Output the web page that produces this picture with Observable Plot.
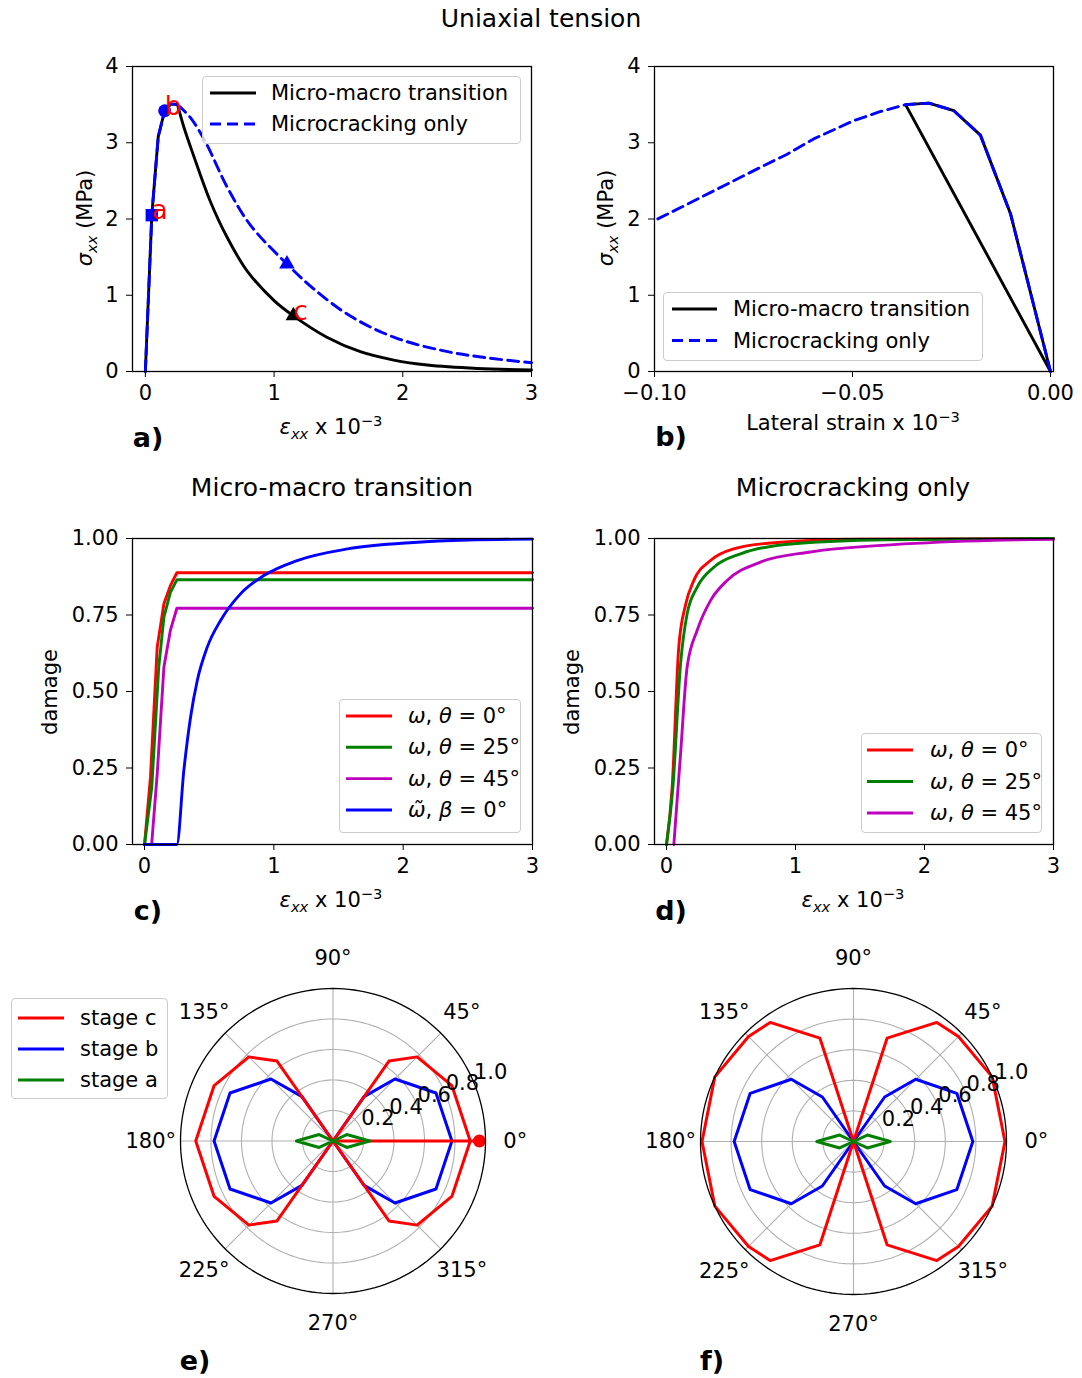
<!DOCTYPE html>
<html><head><meta charset="utf-8">
<script src="https://cdn.jsdelivr.net/npm/d3@7"></script>
<script src="https://cdn.jsdelivr.net/npm/@observablehq/plot@0.6"></script>
<style>
body{margin:0;background:#fff;font-family:"DejaVu Sans",sans-serif;}
#page{position:relative;width:1082px;height:1378px;overflow:hidden;background:#fff;}
.txt{position:absolute;white-space:nowrap;color:#000;line-height:1;font-family:"DejaVu Sans",sans-serif;}
.legend{position:absolute;background:rgba(255,255,255,0.8);border:1.3px solid #cccccc;border-radius:4px;box-sizing:border-box;}
sub,sup{font-size:70%;line-height:0;}
</style></head><body><div id="page"></div>
<script>
// ---------- DATA ----------
// Panel a: stress-strain (eps_xx x 1e-3, sigma_xx MPa)
const aRiseX  = [0, 0.05, 0.1, 0.15, 0.2, 0.25];
const aRiseY  = [0, 2.05, 3.08, 3.42, 3.51, 3.50];
const aMacroX = [0.3, 0.375, 0.5, 0.635, 0.79, 1.0, 1.15, 1.41, 1.67, 1.93, 2.19, 2.58, 3.0];
const aMacroY = [3.2, 2.83, 2.25, 1.76, 1.32, 0.93, 0.73, 0.45, 0.26, 0.15, 0.085, 0.04, 0.02];
const aMicroX = [0.35, 0.47, 0.635, 0.816, 1.1, 1.31, 1.59, 1.93, 2.32, 2.65, 3.0];
const aMicroY = [3.33, 3.0, 2.42, 1.92, 1.41, 1.08, 0.73, 0.45, 0.27, 0.18, 0.115];
const aMarkX = [0.05, 0.15, 1.15, 1.1];
const aMarkY = [2.05, 3.42, 0.73, 1.41];
const aMarkLabel = ["a", "b", "c", ""];

// Panel b: lateral strain vs stress
const bMicroX = [0, -0.0101, -0.0177, -0.0244, -0.0307, -0.0366, -0.0429, -0.0497, -0.0598, -0.0665, -0.0724, -0.085, -0.0934, -0.1];
const bMicroY = [0, 2.07, 3.10, 3.42, 3.52, 3.50, 3.41, 3.29, 3.05, 2.85, 2.70, 2.37, 2.15, 1.98];
const bMacroX = [0, -0.0101, -0.0177, -0.0244, -0.0307, -0.0366, 0];
const bMacroY = [0, 2.07, 3.10, 3.42, 3.52, 3.50, 0];

// Panel c: damage, micro-macro transition
const c0X  = [0, 0.046, 0.098, 0.15, 0.2, 0.25, 3];
const c0Y  = [0, 0.22, 0.645, 0.787, 0.846, 0.888, 0.888];
const c25X = [0, 0.056, 0.11, 0.15, 0.2, 0.25, 3];
const c25Y = [0, 0.187, 0.58, 0.743, 0.824, 0.865, 0.865];
const c45X = [0, 0.055, 0.098, 0.15, 0.2, 0.25, 3];
const c45Y = [0, 0, 0.23, 0.58, 0.70, 0.772, 0.772];
const cMacX = [0, 0.25, 0.304, 0.356, 0.408, 0.485, 0.588, 0.742, 0.923, 1.18, 1.57, 2.08, 2.5, 3];
const cMacY = [0, 0, 0.242, 0.416, 0.536, 0.645, 0.732, 0.819, 0.879, 0.928, 0.966, 0.987, 0.995, 0.998];

// Panel d: damage, microcracking only
const d0X  = [0, 0.044, 0.095, 0.147, 0.212, 0.341, 0.52, 0.858, 1.5, 3];
const d0Y  = [0, 0.187, 0.645, 0.782, 0.863, 0.928, 0.966, 0.987, 0.998, 1.0];
const d25X = [0, 0.05, 0.109, 0.16, 0.238, 0.367, 0.574, 0.987, 1.7, 3];
const d25Y = [0, 0.19, 0.59, 0.754, 0.841, 0.906, 0.95, 0.983, 0.996, 1.0];
const d45X = [0.057, 0.109, 0.16, 0.238, 0.341, 0.47, 0.729, 1.116, 1.76, 2.54, 3];
const d45Y = [0, 0.296, 0.58, 0.70, 0.797, 0.863, 0.923, 0.956, 0.98, 0.994, 0.997];

// Panels e, f: polar damage distributions (theta in degrees, first quadrant; mirrored)
const polarTheta = [0, 25, 45, 55, 72, 90];
const eStageC = [0.90, 0.86, 0.78, 0.64, 0, 0];
const eStageB = [0.78, 0.745, 0.575, 0.355, 0, 0];
const eStageA = [0.24, 0.10, 0, 0, 0, 0];
const eMacro  = 0.96;
const fStageC = [0.99, 1.0, 0.97, 0.95, 0.71, 0];
const fStageB = [0.78, 0.745, 0.575, 0.355, 0, 0];
const fStageA = [0.24, 0.10, 0, 0, 0, 0];
const ringR = [0.2, 0.4, 0.6, 0.8, 1.0];
const spokeAngles = [0, 45, 90, 135, 180, 225, 270, 315];

// ---------- HELPERS ----------
const page = document.getElementById("page");
const RED = "#ff0000", BLUE = "#0000ff", GREEN = "#008000", MAG = "#bf00bf";
const FONT = "DejaVu Sans";
const LW = 2.9;
const pts = (xs, ys) => xs.map((x, i) => ({x, y: ys[i]}));
function place(svg, left, top) {
  svg.style.position = "absolute";
  svg.style.left = left + "px";
  svg.style.top = top + "px";
  page.appendChild(svg);
}
function label(html, cx, cy, size, opts = {}) {
  const d = document.createElement("div");
  d.className = "txt";
  d.innerHTML = html;
  d.style.fontSize = size + "px";
  d.style.left = cx + "px";
  d.style.top = cy + "px";
  d.style.transform = "translate(-50%,-50%)" + (opts.rotate ? ` rotate(${opts.rotate}deg)` : "");
  if (opts.bold) d.style.fontWeight = "bold";
  page.appendChild(d);
}
function legend(box, entries, lx1, lx2, tx, fs) {
  const d = document.createElement("div");
  d.className = "legend";
  d.style.left = box[0] + "px"; d.style.top = box[1] + "px";
  d.style.width = (box[2] - box[0]) + "px"; d.style.height = (box[3] - box[1]) + "px";
  page.appendChild(d);
  const NS = "http://www.w3.org/2000/svg";
  const s = document.createElementNS(NS, "svg");
  s.setAttribute("width", box[2] - box[0]); s.setAttribute("height", box[3] - box[1]);
  s.style.position = "absolute"; s.style.left = "-1px"; s.style.top = "-1px"; s.style.overflow = "visible";
  d.appendChild(s);
  for (const e of entries) {
    const l = document.createElementNS(NS, "line");
    l.setAttribute("x1", lx1 - box[0]); l.setAttribute("x2", lx2 - box[0]);
    l.setAttribute("y1", e.y - box[1]); l.setAttribute("y2", e.y - box[1]);
    l.setAttribute("stroke", e.color); l.setAttribute("stroke-width", e.w || LW);
    if (e.dash) l.setAttribute("stroke-dasharray", e.dash);
    s.appendChild(l);
    const t = document.createElement("div");
    t.className = "txt"; t.innerHTML = e.html; t.style.fontSize = fs + "px";
    t.style.left = (tx - box[0] - 1) + "px"; t.style.top = (e.y - box[1] - 1) + "px";
    t.style.transform = "translateY(-50%)";
    d.appendChild(t);
  }
}
const baseStyle = {fontFamily: FONT, fontSize: "21px", color: "black", background: "transparent", overflow: "visible"};
const xAx = {tickSize: 6, tickPadding: 8, label: null};
const yAx = {tickSize: 6, tickPadding: 8, label: null};

// ---------- PANEL a ----------
const peakX = aRiseX[aRiseX.length - 1], peakY = aRiseY[aRiseY.length - 1];
place(Plot.plot({
  width: 510, height: 400, marginLeft: 92, marginRight: 19, marginTop: 16, marginBottom: 79,
  style: baseStyle,
  x: {...xAx, domain: [-0.1, 3], ticks: [0, 1, 2, 3], tickFormat: d3.format("d")},
  y: {...yAx, domain: [0, 4], ticks: [0, 1, 2, 3, 4], tickFormat: d3.format("d")},
  marks: [
    Plot.line(pts(aRiseX, aRiseY), {x: "x", y: "y", stroke: "black", strokeWidth: LW}),
    Plot.line(pts([peakX].concat(aMacroX), [peakY].concat(aMacroY)), {x: "x", y: "y", stroke: "black", strokeWidth: LW, curve: "catmull-rom"}),
    Plot.line(pts(aRiseX, aRiseY), {x: "x", y: "y", stroke: BLUE, strokeWidth: LW, strokeDasharray: "11,6"}),
    Plot.line(pts([peakX].concat(aMicroX), [peakY].concat(aMicroY)), {x: "x", y: "y", stroke: BLUE, strokeWidth: LW, strokeDasharray: "11,6", curve: "catmull-rom"}),
    Plot.dot(pts([aMarkX[0]], [aMarkY[0]]), {x: "x", y: "y", symbol: "square", r: 7, fill: BLUE, stroke: "none"}),
    Plot.dot(pts([aMarkX[1]], [aMarkY[1]]), {x: "x", y: "y", symbol: "circle", r: 6.5, fill: BLUE, stroke: "none"}),
    Plot.dot(pts([aMarkX[2]], [aMarkY[2]]), {x: "x", y: "y", symbol: "triangle", r: 5.8, fill: "black", stroke: "none"}),
    Plot.dot(pts([aMarkX[3]], [aMarkY[3]]), {x: "x", y: "y", symbol: "triangle", r: 5.8, fill: BLUE, stroke: "none"}),
    Plot.text(aMarkX.map((x, i) => ({x, y: aMarkY[i], t: aMarkLabel[i]})), {x: "x", y: "y", text: "t", fill: RED, fontSize: 26, textAnchor: "start", lineAnchor: "bottom", dy: 4}),
    Plot.frame({stroke: "black", strokeWidth: 1.3})
  ]
}), 40, 50);

// ---------- PANEL b ----------
place(Plot.plot({
  width: 510, height: 400, marginLeft: 94, marginRight: 17, marginTop: 16, marginBottom: 79,
  style: baseStyle,
  x: {...xAx, domain: [-0.1, 0.00076], ticks: [-0.1, -0.05, 0], tickFormat: d3.format(".2f")},
  y: {...yAx, domain: [0, 4], ticks: [0, 1, 2, 3, 4], tickFormat: d3.format("d")},
  marks: [
    Plot.line(pts(bMacroX, bMacroY), {x: "x", y: "y", stroke: "black", strokeWidth: LW}),
    Plot.line(pts(bMicroX, bMicroY), {x: "x", y: "y", stroke: BLUE, strokeWidth: LW, strokeDasharray: "11,6"}),
    Plot.frame({stroke: "black", strokeWidth: 1.3})
  ]
}), 560, 50);

// ---------- PANEL c ----------
place(Plot.plot({
  width: 510, height: 400, marginLeft: 92, marginRight: 18, marginTop: 18, marginBottom: 76,
  style: baseStyle,
  x: {...xAx, domain: [-0.093, 3], ticks: [0, 1, 2, 3], tickFormat: d3.format("d")},
  y: {...yAx, domain: [0, 1], ticks: [0, 0.25, 0.5, 0.75, 1], tickFormat: d3.format(".2f")},
  marks: [
    Plot.line(pts(c0X, c0Y), {x: "x", y: "y", stroke: RED, strokeWidth: LW}),
    Plot.line(pts(c25X, c25Y), {x: "x", y: "y", stroke: GREEN, strokeWidth: LW}),
    Plot.line(pts(c45X, c45Y), {x: "x", y: "y", stroke: MAG, strokeWidth: LW}),
    Plot.line(pts(cMacX, cMacY), {x: "x", y: "y", stroke: BLUE, strokeWidth: LW, curve: "monotone-x"}),
    Plot.frame({stroke: "black", strokeWidth: 1.3})
  ]
}), 40, 520);

// ---------- PANEL d ----------
place(Plot.plot({
  width: 510, height: 400, marginLeft: 94, marginRight: 17, marginTop: 18, marginBottom: 76,
  style: baseStyle,
  x: {...xAx, domain: [-0.093, 3], ticks: [0, 1, 2, 3], tickFormat: d3.format("d")},
  y: {...yAx, domain: [0, 1], ticks: [0, 0.25, 0.5, 0.75, 1], tickFormat: d3.format(".2f")},
  marks: [
    Plot.line(pts(d0X, d0Y), {x: "x", y: "y", stroke: RED, strokeWidth: LW, curve: "monotone-x"}),
    Plot.line(pts(d25X, d25Y), {x: "x", y: "y", stroke: GREEN, strokeWidth: LW, curve: "monotone-x"}),
    Plot.line(pts(d45X, d45Y), {x: "x", y: "y", stroke: MAG, strokeWidth: LW, curve: "monotone-x"}),
    Plot.frame({stroke: "black", strokeWidth: 1.3})
  ]
}), 560, 520);

// ---------- POLAR PANELS ----------
const rad = a => a * Math.PI / 180;
function mirror(rs) {
  const seq = [];
  polarTheta.forEach((t, i) => seq.push([t, rs[i]]));
  for (let i = polarTheta.length - 2; i >= 0; i--) seq.push([180 - polarTheta[i], rs[i]]);
  for (let i = 1; i < polarTheta.length; i++) seq.push([180 + polarTheta[i], rs[i]]);
  for (let i = polarTheta.length - 2; i >= 0; i--) seq.push([360 - polarTheta[i], rs[i]]);
  return seq.map(([a, r]) => ({x: r * Math.cos(rad(a)), y: r * Math.sin(rad(a))}));
}
const circAngles = d3.range(0, 361, 2);
const ringPts = ringR.flatMap(r => circAngles.map(a => ({ring: r, x: r * Math.cos(rad(a)), y: r * Math.sin(rad(a))})));
const spokes = spokeAngles.map(a => ({x2: Math.cos(rad(a)), y2: Math.sin(rad(a)), lab: a + "°",
  lx: 1.195 * Math.cos(rad(a)), ly: 1.195 * Math.sin(rad(a))}));
const rLabels = ringR.map(r => ({x: r * Math.cos(rad(22.5)), y: r * Math.sin(rad(22.5)), t: r.toFixed(1)}));

function polar(stageC, stageB, stageA, macro, size) {
  const m = [
    Plot.line(ringPts.filter(d => d.ring < 1), {x: "x", y: "y", z: "ring", stroke: "#b0b0b0", strokeWidth: 1.1}),
    Plot.link(spokes, {x1: 0, y1: 0, x2: "x2", y2: "y2", stroke: "#b0b0b0", strokeWidth: 1.1}),
    Plot.line(mirror(stageB), {x: "x", y: "y", stroke: BLUE, strokeWidth: 3}),
    Plot.line(mirror(stageC), {x: "x", y: "y", stroke: RED, strokeWidth: 3}),
  ];
  if (macro != null) {
    m.push(Plot.line(pts([0, macro], [0, 0]), {x: "x", y: "y", stroke: RED, strokeWidth: 3}));
    m.push(Plot.dot(pts([macro], [0]), {x: "x", y: "y", r: 6.5, fill: RED, stroke: "none"}));
  }
  m.push(Plot.line(mirror(stageA), {x: "x", y: "y", stroke: GREEN, strokeWidth: 3}));
  m.push(Plot.line(ringPts.filter(d => d.ring === 1), {x: "x", y: "y", stroke: "black", strokeWidth: 1.3}));
  m.push(Plot.text(spokes, {x: "lx", y: "ly", text: "lab", fill: "black", fontSize: 21}));
  m.push(Plot.text(rLabels, {x: "x", y: "y", text: "t", fill: "black", fontSize: 21, textAnchor: "start", lineAnchor: "bottom", dy: -4}));
  return Plot.plot({
    width: 440, height: 410, marginLeft: 80, marginTop: 48, marginRight: 440 - 80 - size, marginBottom: 410 - 48 - size,
    style: baseStyle,
    x: {domain: [-1, 1], axis: null}, y: {domain: [-1, 1], axis: null},
    marks: m
  });
}
place(polar(eStageC, eStageB, eStageA, eMacro, 305), 100, 940);
place(polar(fStageC, fStageB, fStageA, null, 306), 620, 940);

// ---------- TEXT ----------
label("Uniaxial tension", 541, 18, 25);
label("Micro-macro transition", 332, 487, 25);
label("Microcracking only", 853, 487, 25);
const sig = "<i>σ</i><sub><i>xx</i></sub> (MPa)";
const eps = "<i>ε</i><sub><i>xx</i></sub> x 10<sup>−3</sup>";
label(sig, 85, 218, 21, {rotate: -90});
label(sig, 606, 218, 21, {rotate: -90});
label(eps, 331, 427, 21);
label("Lateral strain x 10<sup>−3</sup>", 853, 423, 21);
label("damage", 50, 692, 21, {rotate: -90});
label("damage", 572, 692, 21, {rotate: -90});
label(eps, 331, 900, 21);
label(eps, 853, 900, 21);
label("a)", 148, 437, 27, {bold: true});
label("b)", 671, 436, 27, {bold: true});
label("c)", 148, 910, 27, {bold: true});
label("d)", 671, 910, 27, {bold: true});
label("e)", 195, 1360, 27, {bold: true});
label("f)", 712, 1360, 27, {bold: true});

// ---------- LEGENDS ----------
legend([202, 76, 521, 144], [
  {y: 93, color: "black", html: "Micro-macro transition"},
  {y: 124, color: BLUE, dash: "11,6", html: "Microcracking only"}
], 210, 256, 271, 21);
legend([663, 292, 983, 361], [
  {y: 309, color: "black", html: "Micro-macro transition"},
  {y: 340.5, color: BLUE, dash: "11,6", html: "Microcracking only"}
], 672, 717, 733, 21);
legend([339, 699, 521, 833], [
  {y: 716, color: RED, html: "<i>ω</i>, <i>θ</i> = 0°"},
  {y: 747.3, color: GREEN, html: "<i>ω</i>, <i>θ</i> = 25°"},
  {y: 778.6, color: MAG, html: "<i>ω</i>, <i>θ</i> = 45°"},
  {y: 810, color: BLUE, html: "<i>ω̃</i>, <i>β</i> = 0°"}
], 346, 392, 408, 21);
legend([861, 733, 1042, 833], [
  {y: 750, color: RED, html: "<i>ω</i>, <i>θ</i> = 0°"},
  {y: 781.5, color: GREEN, html: "<i>ω</i>, <i>θ</i> = 25°"},
  {y: 813, color: MAG, html: "<i>ω</i>, <i>θ</i> = 45°"}
], 867, 913, 930, 21);
legend([11, 998, 168, 1099], [
  {y: 1018, color: RED, html: "stage c"},
  {y: 1049, color: BLUE, html: "stage b"},
  {y: 1080, color: GREEN, html: "stage a"}
], 18, 64, 80, 21);
</script></body></html>
